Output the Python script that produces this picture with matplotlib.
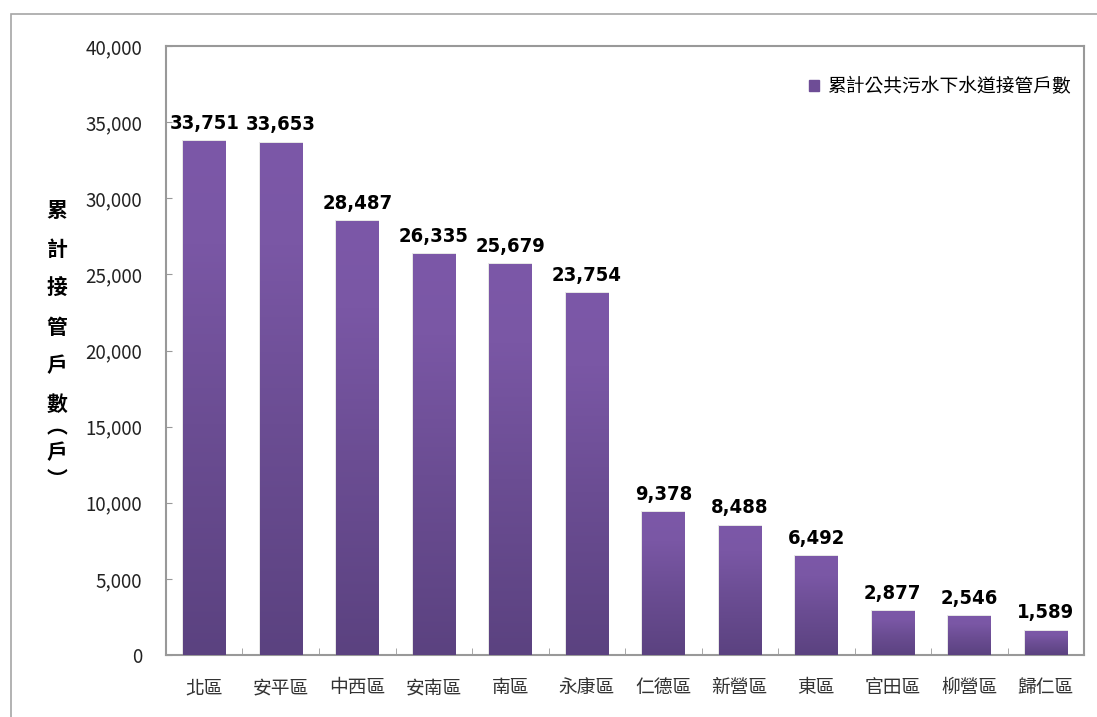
import matplotlib
matplotlib.use("Agg")
import matplotlib.pyplot as plt
import numpy as np
from matplotlib.colors import LinearSegmentedColormap
from matplotlib.patches import Rectangle
from matplotlib.ticker import FuncFormatter, MultipleLocator

plt.rcParams['font.family'] = ['Noto Sans CJK TC', 'DejaVu Sans']

districts = ['北區', '安平區', '中西區', '安南區', '南區', '永康區',
             '仁德區', '新營區', '東區', '官田區', '柳營區', '歸仁區']
households = [33751, 33653, 28487, 26335, 25679, 23754,
              9378, 8488, 6492, 2877, 2546, 1589]
series_name = '累計公共污水下水道接管戶數'
y_label_main = '累\n計\n接\n管\n戶\n數'
y_label_unit = '︵\n戶\n︶'

fig = plt.figure(figsize=(10.97, 7.17), dpi=100)
ax = fig.add_axes([166 / 1097, 1 - 655 / 717, (1084 - 166) / 1097, (655 - 46) / 717])

# outer frame of the chart area
fig.add_artist(Rectangle((11 / 1097, -0.1), 1.2, 1 - 14 / 717 + 0.1,
                         transform=fig.transFigure, fill=False,
                         edgecolor='#a6a6a6', linewidth=1.2))

x = np.arange(len(districts))
bars = ax.bar(x, households, width=0.55, color='#6e4d96', edgecolor='none',
              label=series_name, zorder=2)

# vertical gradient for each bar, light on top, darker at the bottom
cmap = LinearSegmentedColormap.from_list(
    'purp', [(0, '#5b4280'), (0.45, '#6b4d93'), (0.8, '#7a57a5'), (1, '#7c58a8')])
grad = np.linspace(0, 1, 256).reshape(-1, 1)
for b in bars:
    bx, by, bw, bh = b.get_x(), b.get_y(), b.get_width(), b.get_height()
    # faint shadow
    ax.add_patch(Rectangle((bx - 0.015, by), bw + 0.03, bh + 60,
                           facecolor='#e6e6e6', edgecolor='none', zorder=1))
    im = ax.imshow(grad, extent=(bx, bx + bw, by, by + bh), origin='lower',
                   cmap=cmap, aspect='auto', zorder=3)
    im.set_clip_path(b)

for xi, v in zip(x, households):
    ax.annotate(f'{v:,}', (xi, v), xytext=(0, 6), textcoords='offset points',
                ha='center', va='bottom', fontsize=14.5, fontweight='bold',
                fontstretch='condensed', family='DejaVu Sans', color='black')

ax.set_xlim(-0.5, len(districts) - 0.5)
ax.set_ylim(0, 40000)
ax.yaxis.set_major_locator(MultipleLocator(5000))
ax.yaxis.set_major_formatter(FuncFormatter(lambda v, p: f'{int(v):,}'))
ax.tick_params(axis='y', direction='in', length=4, color='#999999',
               labelsize=13.5, pad=17, labelcolor='#222222')

ax.set_xticks(x)
ax.set_xticklabels(districts, fontsize=13.5)
ax.tick_params(axis='x', length=0, pad=16, labelcolor='#333333')
# category boundary ticks pointing inward
ax.set_xticks(np.arange(len(districts) + 1) - 0.5, minor=True)
ax.tick_params(axis='x', which='minor', direction='in', length=5, color='#999999')

for s in ax.spines.values():
    s.set_color('#999999')
    s.set_linewidth(1.5)

fig.text(57 / 1097, 1 - 200 / 717, y_label_main, ha='center', va='top',
         fontsize=15, fontweight='bold', linespacing=2.05)
fig.text(57 / 1097, 1 - 453 / 717, y_label_unit, ha='center', va='center',
         fontsize=15, fontweight='bold', linespacing=1.3)

leg = ax.legend(loc='upper right', bbox_to_anchor=(1.0, 0.972), frameon=False,
                fontsize=13.5, handlelength=0.5, handleheight=0.5, handletextpad=0.45,
                borderaxespad=0.3)
for h in leg.legend_handles:
    h.set_color('#6e4d96')

fig.savefig('out.png', dpi=100)
